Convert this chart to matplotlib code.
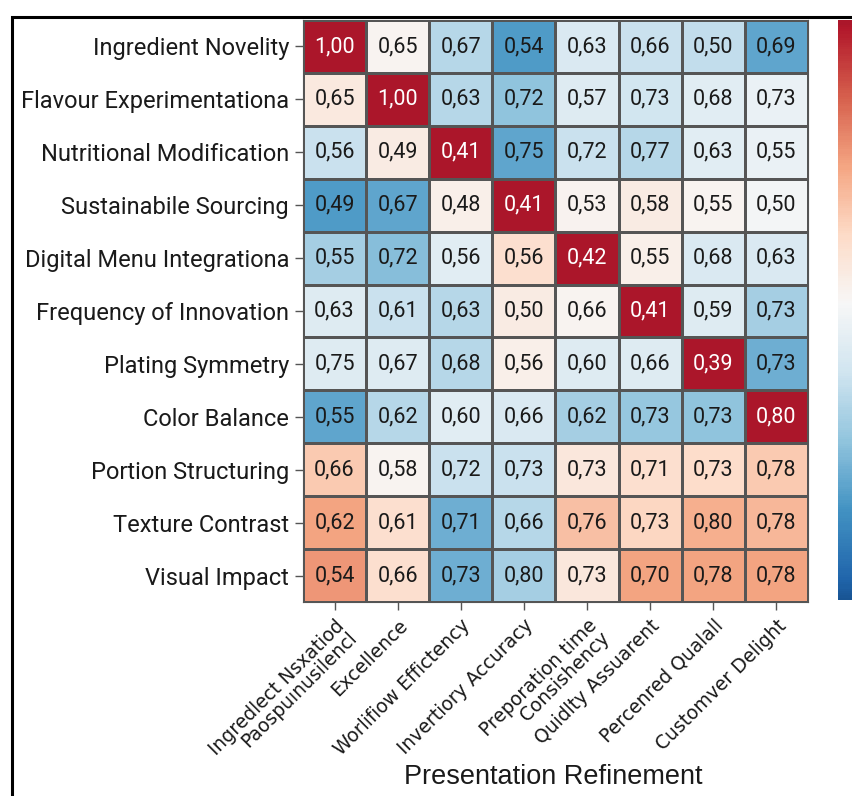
import numpy as np
import matplotlib
matplotlib.use("Agg")
import matplotlib.pyplot as plt
from matplotlib.colors import LinearSegmentedColormap
from matplotlib.patches import Rectangle

# Rij- en kolomlabels
row_labels = [
    "Ingredient Novelity",
    "Flavour Experimentationa",
    "Nutritional Modification",
    "Sustainabile Sourcing",
    "Digital Menu Integrationa",
    "Frequency of Innovation",
    "Plating Symmetry",
    "Color Balance",
    "Portion Structuring",
    "Texture Contrast",
    "Visual Impact",
]
col_labels = [
    "Ingredlect Nsxatiod\nPaospuınusilencl",
    "Excellence",
    "Worlifiow Effictency",
    "Invertiory Accuracy",
    "Preporation time\nConsishency",
    "Quidlty Assuarent",
    "Percenred Qualall",
    "Customver Delight",
]

# Getoonde waarden in de cellen
values = [
    [1.00, 0.65, 0.67, 0.54, 0.63, 0.66, 0.50, 0.69],
    [0.65, 1.00, 0.63, 0.72, 0.57, 0.73, 0.68, 0.73],
    [0.56, 0.49, 0.41, 0.75, 0.72, 0.77, 0.63, 0.55],
    [0.49, 0.67, 0.48, 0.41, 0.53, 0.58, 0.55, 0.50],
    [0.55, 0.72, 0.56, 0.56, 0.42, 0.55, 0.68, 0.63],
    [0.63, 0.61, 0.63, 0.50, 0.66, 0.41, 0.59, 0.73],
    [0.75, 0.67, 0.68, 0.56, 0.60, 0.66, 0.39, 0.73],
    [0.55, 0.62, 0.60, 0.66, 0.62, 0.73, 0.73, 0.80],
    [0.66, 0.58, 0.72, 0.73, 0.73, 0.71, 0.73, 0.78],
    [0.62, 0.61, 0.71, 0.66, 0.76, 0.73, 0.80, 0.78],
    [0.54, 0.66, 0.73, 0.80, 0.73, 0.70, 0.78, 0.78],
]

# Kleurniveau per cel (geschat uit de afbeelding, -1 = blauw, 1 = rood)
color_levels = [
    [1.00, 0.06, -0.32, -0.65, -0.16, -0.24, -0.27, -0.60],
    [0.14, 1.00, -0.32, -0.45, -0.13, -0.20, -0.11, -0.06],
    [-0.24, 0.12, 1.00, -0.60, -0.24, -0.32, -0.11, -0.06],
    [-0.65, -0.60, 0.09, 1.00, 0.07, 0.12, 0.06, 0.00],
    [-0.38, -0.48, -0.11, 0.22, 1.00, 0.09, -0.16, -0.16],
    [-0.13, -0.24, -0.32, 0.12, 0.06, 1.00, -0.13, -0.38],
    [-0.13, -0.13, -0.32, 0.09, -0.13, -0.13, 1.00, -0.55],
    [-0.60, -0.32, -0.11, -0.16, -0.38, -0.43, -0.45, 1.00],
    [0.33, 0.06, -0.24, -0.24, 0.16, 0.22, 0.24, 0.33],
    [0.50, 0.22, -0.55, -0.32, 0.38, 0.28, 0.46, 0.42],
    [0.55, 0.22, -0.55, -0.38, 0.16, 0.50, 0.50, 0.50],
]

data = np.array(color_levels)
nrows, ncols = data.shape

# RdBu_r zonder de donkerste uiteinden
base = plt.get_cmap("RdBu_r")
cmap = LinearSegmentedColormap.from_list(
    "rdbu_trunc", base(np.linspace(0.07, 0.91, 256)))

fig = plt.figure(figsize=(8.53, 7.96), dpi=100)
ax = fig.add_axes([303 / 853, 1 - 602 / 796, 505 / 853, 582 / 796])
cax = fig.add_axes([838 / 853, 1 - 600 / 796, 35 / 853, 580 / 796])

mesh = ax.pcolormesh(data, cmap=cmap, vmin=-1, vmax=1,
                     edgecolors="#555555", linewidth=0.9)
ax.set_xlim(0, ncols)
ax.set_ylim(nrows, 0)

narrow = ["Roboto", "DejaVu Sans"]
for i in range(nrows):
    for j in range(ncols):
        txt_color = "white" if data[i, j] > 0.8 else "#1a1a1a"
        ax.text(j + 0.5, i + 0.5, f"{values[i][j]:.2f}".replace(".", ","),
                ha="center", va="center", fontsize=15.5, color=txt_color,
                family=narrow)

ax.set_yticks(np.arange(nrows) + 0.5)
ax.set_yticklabels(row_labels, fontsize=17, family=narrow, color="#1a1a1a")
ax.set_xticks(np.arange(ncols) + 0.5)
ax.set_xticklabels(col_labels, rotation=45, ha="right", rotation_mode="anchor",
                   fontsize=13.5, family=["DejaVu Sans"],
                   color="#1a1a1a", linespacing=0.9)
ax.tick_params(axis="both", length=6, width=1, color="#555555", pad=4)
for s in ax.spines.values():
    s.set_color("#555555")

# As-titel onderaan
fig.text(553 / 853, 1 - 777 / 796, "Presentation Refinement", fontsize=19.5,
         family=["Liberation Sans", "DejaVu Sans"], color="#1a1a1a",
         ha="center", va="center")

cb = fig.colorbar(mesh, cax=cax)
cb.outline.set_visible(False)
cb.set_ticks([])

# Zwart kader rond de figuur
fig.patches.append(Rectangle((12 / 853, -0.05), 1.0, 1 - 17 / 796 + 0.05,
                             transform=fig.transFigure, fill=False,
                             edgecolor="black", linewidth=2.2, zorder=10))

fig.savefig("out.png", dpi=100)
